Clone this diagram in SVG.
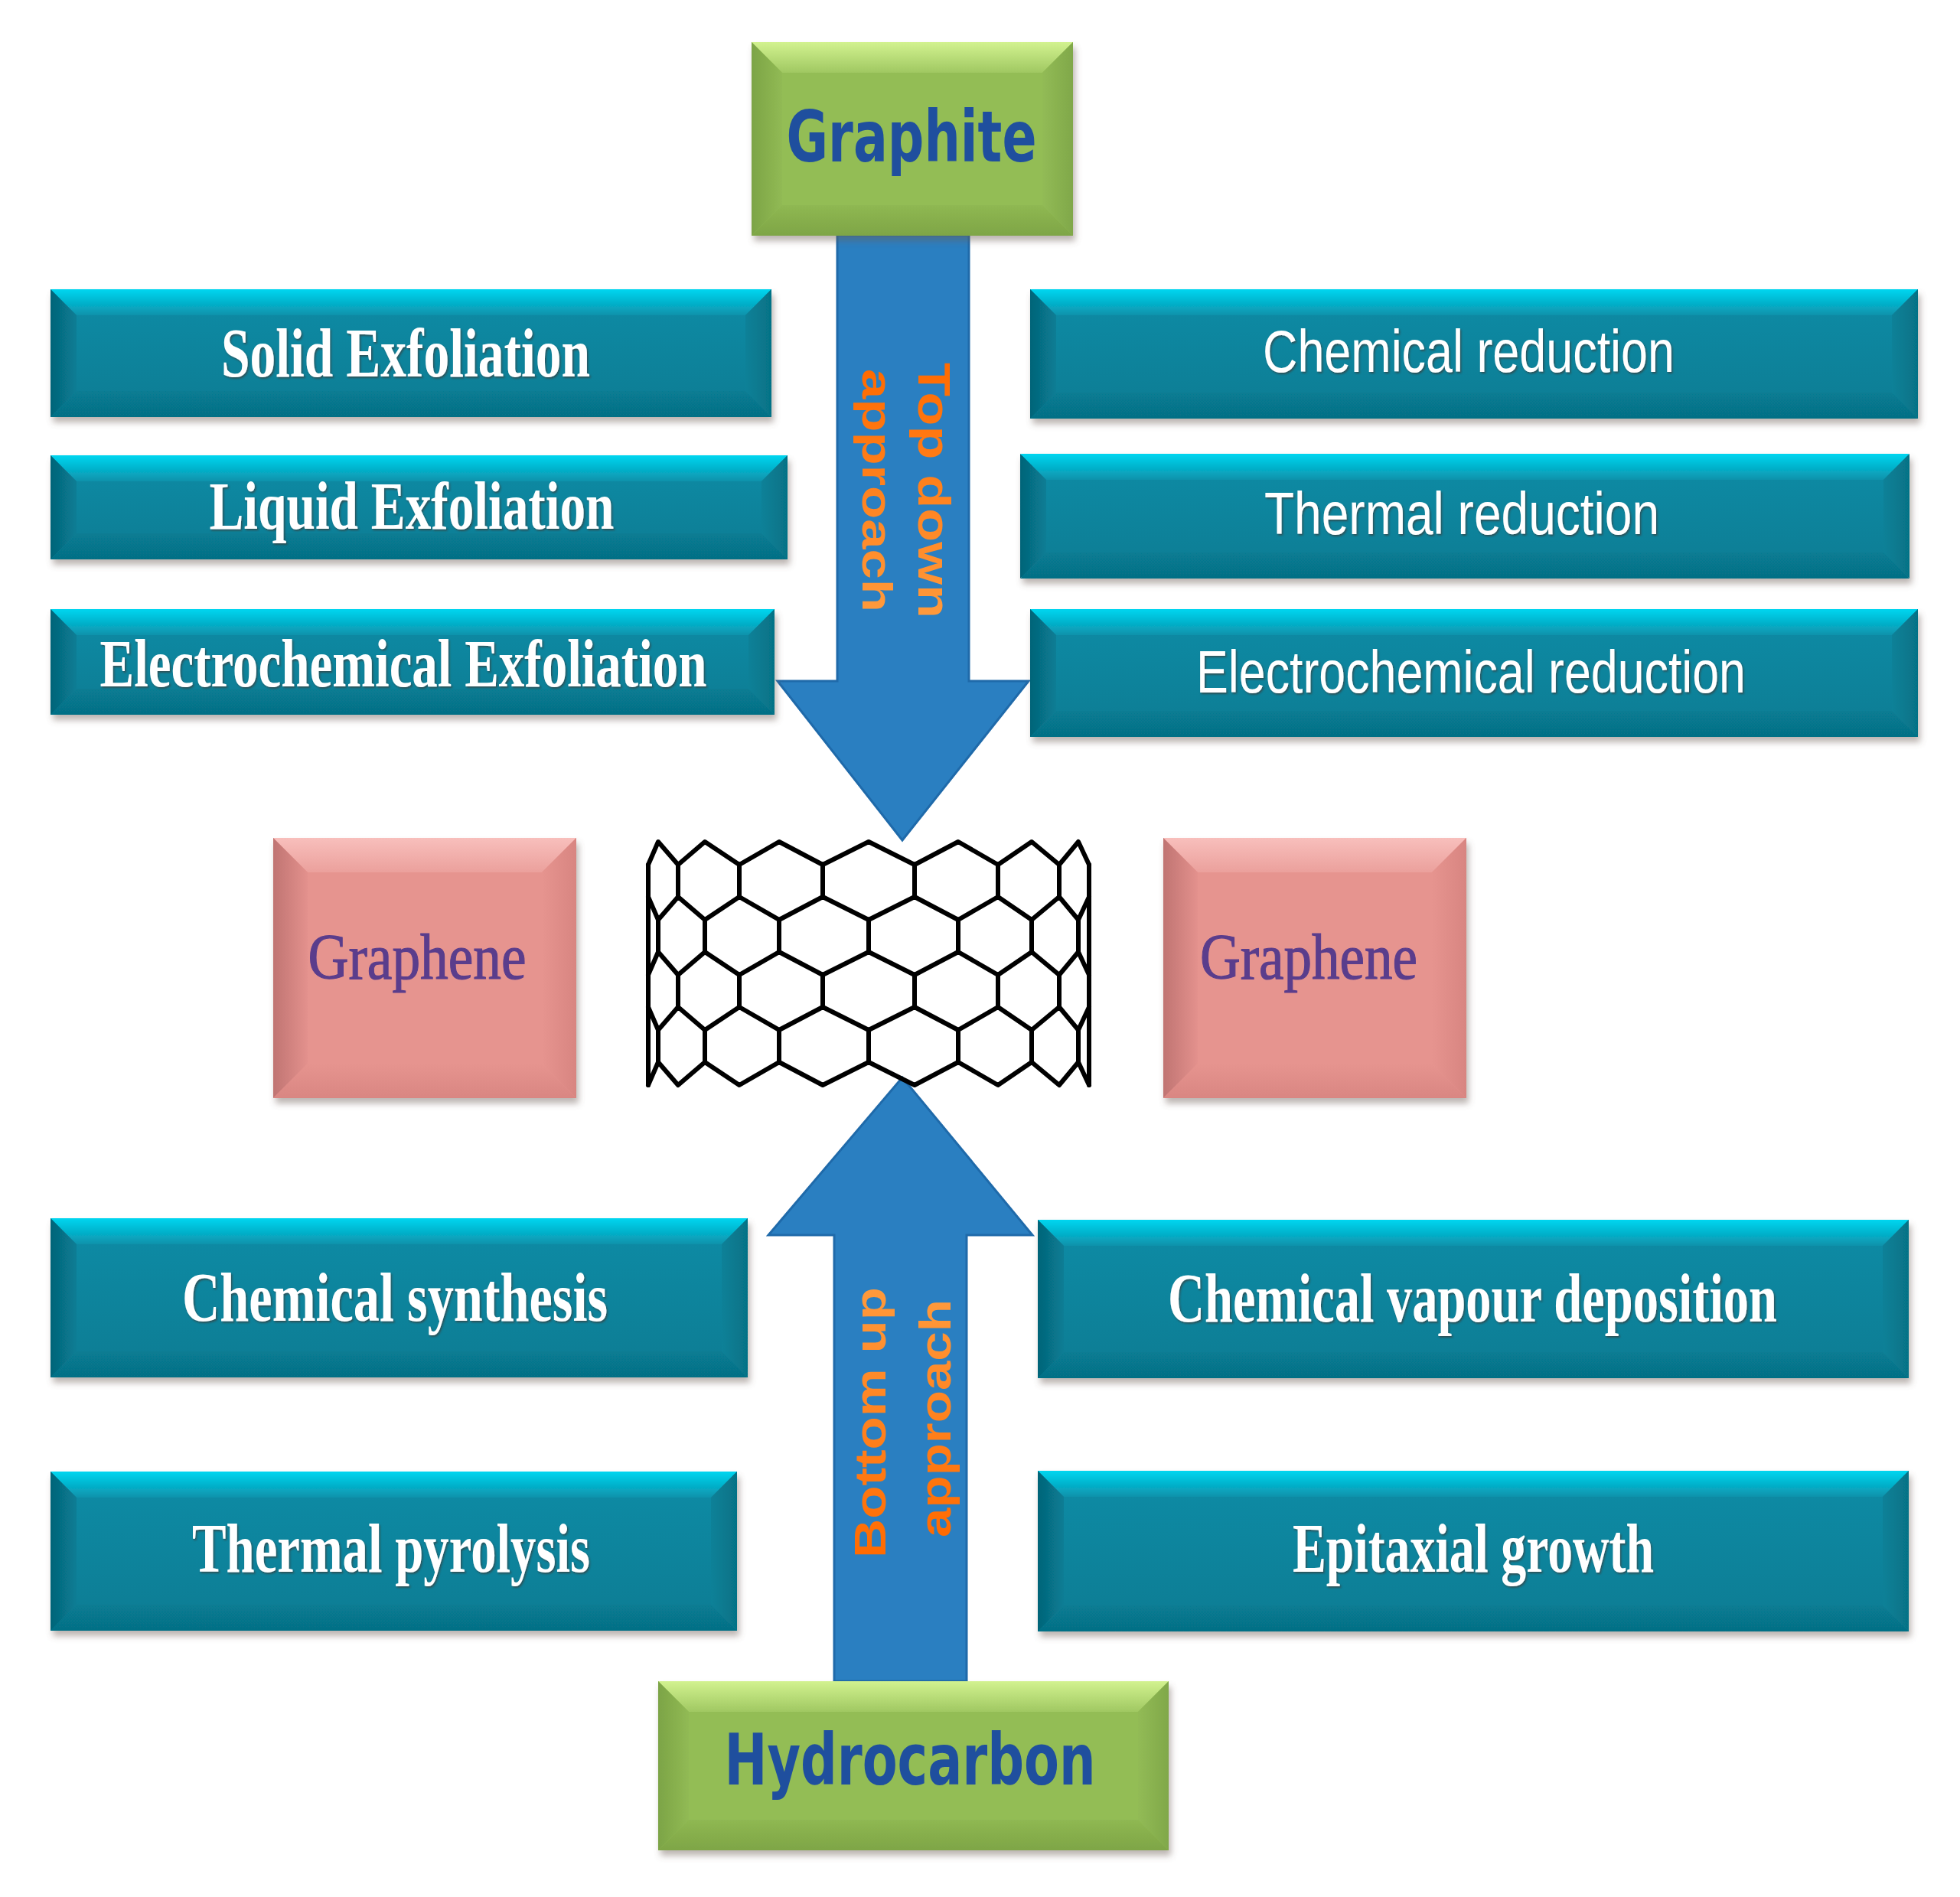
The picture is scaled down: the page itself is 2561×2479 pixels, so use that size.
<svg xmlns="http://www.w3.org/2000/svg" width="2561" height="2479" viewBox="0 0 2561 2479">
<defs>
<style>
.sw{font-family:"Liberation Serif",serif;font-weight:bold;fill:#fff;text-anchor:middle}
.ss{font-family:"Liberation Sans",sans-serif;fill:#fff;text-anchor:middle}
.gb{font-family:"DejaVu Sans",sans-serif;font-weight:bold;fill:#1f4f9e;text-anchor:middle}
.gp{font-family:"Liberation Serif",serif;fill:#5a3d8c;stroke:#5a3d8c;stroke-width:1.2;text-anchor:middle}
.or{font-family:"Liberation Sans",sans-serif;font-weight:bold;fill:url(#orange)}
.tface{fill:url(#tFace)}.ttop{fill:url(#tTop)}.tleft{fill:url(#tLeft)}.tright{fill:url(#tRight)}.tbot{fill:url(#tBot)}
.gface{fill:#93bd55}.gtop{fill:url(#gTop)}.gleft{fill:url(#gLeft)}.gright{fill:url(#gRight)}.gbot{fill:url(#gBot)}
.pface{fill:#e6948f}.ptop{fill:url(#pTop)}.pleft{fill:url(#pLeft)}.pright{fill:url(#pRight)}.pbot{fill:url(#pBot)}
.arrow{fill:#2a7fc1;stroke:#1f6aaa;stroke-width:3}
.lat{fill:none;stroke:#000;stroke-width:6;stroke-linejoin:round;stroke-linecap:round}
</style>
<filter id="sh" x="-5%" y="-10%" width="112%" height="130%"><feDropShadow dx="3" dy="7" stdDeviation="4" flood-color="#6b5a55" flood-opacity="0.45"/></filter>
<filter id="ts" x="-5%" y="-20%" width="110%" height="140%"><feDropShadow dx="1.5" dy="2" stdDeviation="1" flood-color="#4a2a20" flood-opacity="0.55"/></filter>
<linearGradient id="tFace" x1="0" y1="0" x2="0" y2="1"><stop offset="0" stop-color="#0a8ca6"/><stop offset="1" stop-color="#077c93"/></linearGradient>
<linearGradient id="tTop" x1="0" y1="0" x2="0" y2="1"><stop offset="0" stop-color="#00d6f0"/><stop offset="1" stop-color="#0a92ab"/></linearGradient>
<linearGradient id="tLeft" x1="0" y1="0" x2="1" y2="0"><stop offset="0" stop-color="#056478"/><stop offset="1" stop-color="#087d95"/></linearGradient>
<linearGradient id="tRight" x1="0" y1="0" x2="1" y2="0"><stop offset="0" stop-color="#0a8198"/><stop offset="1" stop-color="#067286"/></linearGradient>
<linearGradient id="tBot" x1="0" y1="0" x2="0" y2="1"><stop offset="0" stop-color="#077c93"/><stop offset="1" stop-color="#066f85"/></linearGradient>
<linearGradient id="gTop" x1="0" y1="0" x2="0" y2="1"><stop offset="0" stop-color="#d2f28f"/><stop offset="1" stop-color="#a0c862"/></linearGradient>
<linearGradient id="gLeft" x1="0" y1="0" x2="1" y2="0"><stop offset="0" stop-color="#7ca446"/><stop offset="1" stop-color="#91ba54"/></linearGradient>
<linearGradient id="gRight" x1="0" y1="0" x2="1" y2="0"><stop offset="0" stop-color="#92bb55"/><stop offset="1" stop-color="#80a84a"/></linearGradient>
<linearGradient id="gBot" x1="0" y1="0" x2="0" y2="1"><stop offset="0" stop-color="#8fb852"/><stop offset="1" stop-color="#7ea546"/></linearGradient>
<linearGradient id="pTop" x1="0" y1="0" x2="0" y2="1"><stop offset="0" stop-color="#f8bfbc"/><stop offset="1" stop-color="#eba09c"/></linearGradient>
<linearGradient id="pLeft" x1="0" y1="0" x2="1" y2="0"><stop offset="0" stop-color="#c07472"/><stop offset="1" stop-color="#e3918d"/></linearGradient>
<linearGradient id="pRight" x1="0" y1="0" x2="1" y2="0"><stop offset="0" stop-color="#e6948f"/><stop offset="1" stop-color="#d88581"/></linearGradient>
<linearGradient id="pBot" x1="0" y1="0" x2="0" y2="1"><stop offset="0" stop-color="#e6948f"/><stop offset="1" stop-color="#d98682"/></linearGradient>
<linearGradient id="orange" x1="0" y1="0" x2="1" y2="0"><stop offset="0" stop-color="#ff6a00"/><stop offset="1" stop-color="#ff9a3c"/></linearGradient>
</defs>
<rect width="2561" height="2479" fill="#fff"/>

<g id="connectors">
<path class="arrow" d="M1094,307 L1266,307 L1266,890 L1344,890 L1179,1098 L1016,890 L1094,890 Z"/>
<path class="arrow" d="M1090,2197 L1090,1614 L1004,1614 L1179,1408 L1349,1614 L1263,1614 L1263,2197 Z"/>
<text class="or" font-size="60" transform="translate(1200,474) rotate(90)" textLength="334" lengthAdjust="spacingAndGlyphs">Top down</text>
<text class="or" font-size="56" transform="translate(1127,482) rotate(90)" textLength="318" lengthAdjust="spacingAndGlyphs">approach</text>
<text class="or" font-size="58" transform="translate(1157,2036) rotate(-90)" textLength="354" lengthAdjust="spacingAndGlyphs">Bottom up</text>
<text class="or" font-size="58" transform="translate(1242,2009) rotate(-90)" textLength="311" lengthAdjust="spacingAndGlyphs">approach</text>
</g>

<g id="graphite" filter="url(#sh)">
<rect class="gface" x="982" y="55" width="420" height="253"/>
<polygon class="gtop" points="982,55 1402,55 1362,95 1022,95"/>
<polygon class="gleft" points="982,55 1022,95 1022,268 982,308"/>
<polygon class="gright" points="1402,55 1402,308 1362,268 1362,95"/>
<polygon class="gbot" points="982,308 1022,268 1362,268 1402,308"/>
</g>
<text class="gb" x="1191" y="211" font-size="92" textLength="327" lengthAdjust="spacingAndGlyphs">Graphite</text>

<g id="hydrocarbon">
<g filter="url(#sh)">
<rect class="gface" x="860" y="2197" width="667" height="221"/>
<polygon class="gtop" points="860,2197 1527,2197 1487,2237 900,2237"/>
<polygon class="gleft" points="860,2197 900,2237 900,2378 860,2418"/>
<polygon class="gright" points="1527,2197 1527,2418 1487,2378 1487,2237"/>
<polygon class="gbot" points="860,2418 900,2378 1487,2378 1527,2418"/>
</g>
<text class="gb" x="1189" y="2332" font-size="92" textLength="485" lengthAdjust="spacingAndGlyphs">Hydrocarbon</text>
</g>

<g id="solid-exfoliation">
<g filter="url(#sh)">
<rect class="tface" x="66" y="378" width="942" height="167"/>
<polygon class="ttop" points="66,378 1008,378 974,412 100,412"/>
<polygon class="tleft" points="66,378 100,412 100,511 66,545"/>
<polygon class="tright" points="1008,378 1008,545 974,511 974,412"/>
<polygon class="tbot" points="66,545 100,511 974,511 1008,545"/>
</g>
<text class="sw" filter="url(#ts)" x="530" y="492" font-size="90" textLength="482" lengthAdjust="spacingAndGlyphs">Solid Exfoliation</text>
</g>

<g id="liquid-exfoliation">
<g filter="url(#sh)">
<rect class="tface" x="66" y="595" width="963" height="136"/>
<polygon class="ttop" points="66,595 1029,595 995,629 100,629"/>
<polygon class="tleft" points="66,595 100,629 100,697 66,731"/>
<polygon class="tright" points="1029,595 1029,731 995,697 995,629"/>
<polygon class="tbot" points="66,731 100,697 995,697 1029,731"/>
</g>
<text class="sw" filter="url(#ts)" x="538" y="691" font-size="88" textLength="529" lengthAdjust="spacingAndGlyphs">Liquid Exfoliation</text>
</g>

<g id="electrochemical-exfoliation">
<g filter="url(#sh)">
<rect class="tface" x="66" y="796" width="946" height="138"/>
<polygon class="ttop" points="66,796 1012,796 978,830 100,830"/>
<polygon class="tleft" points="66,796 100,830 100,900 66,934"/>
<polygon class="tright" points="1012,796 1012,934 978,900 978,830"/>
<polygon class="tbot" points="66,934 100,900 978,900 1012,934"/>
</g>
<text class="sw" filter="url(#ts)" x="527" y="897" font-size="88" textLength="793" lengthAdjust="spacingAndGlyphs">Electrochemical Exfoliation</text>
</g>

<g id="chemical-reduction">
<g filter="url(#sh)">
<rect class="tface" x="1346" y="378" width="1160" height="169"/>
<polygon class="ttop" points="1346,378 2506,378 2472,412 1380,412"/>
<polygon class="tleft" points="1346,378 1380,412 1380,513 1346,547"/>
<polygon class="tright" points="2506,378 2506,547 2472,513 2472,412"/>
<polygon class="tbot" points="1346,547 1380,513 2472,513 2506,547"/>
</g>
<text class="ss" filter="url(#ts)" x="1919" y="486" font-size="78" textLength="538" lengthAdjust="spacingAndGlyphs">Chemical reduction</text>
</g>

<g id="thermal-reduction">
<g filter="url(#sh)">
<rect class="tface" x="1333" y="593" width="1162" height="163" rx="6"/>
<polygon class="ttop" points="1333,593 2495,593 2461,627 1367,627"/>
<polygon class="tleft" points="1333,593 1367,627 1367,722 1333,756"/>
<polygon class="tright" points="2495,593 2495,756 2461,722 2461,627"/>
<polygon class="tbot" points="1333,756 1367,722 2461,722 2495,756"/>
</g>
<text class="ss" filter="url(#ts)" x="1910" y="698" font-size="78" textLength="516" lengthAdjust="spacingAndGlyphs">Thermal reduction</text>
</g>

<g id="electrochemical-reduction">
<g filter="url(#sh)">
<rect class="tface" x="1346" y="796" width="1160" height="167"/>
<polygon class="ttop" points="1346,796 2506,796 2472,830 1380,830"/>
<polygon class="tleft" points="1346,796 1380,830 1380,929 1346,963"/>
<polygon class="tright" points="2506,796 2506,963 2472,929 2472,830"/>
<polygon class="tbot" points="1346,963 1380,929 2472,929 2506,963"/>
</g>
<text class="ss" filter="url(#ts)" x="1922" y="905" font-size="78" textLength="718" lengthAdjust="spacingAndGlyphs">Electrochemical reduction</text>
</g>

<g id="graphene-left">
<g filter="url(#sh)">
<rect class="pface" x="357" y="1095" width="396" height="340"/>
<polygon class="ptop" points="357,1095 753,1095 708,1140 402,1140"/>
<polygon class="pleft" points="357,1095 402,1140 402,1390 357,1435"/>
<polygon class="pright" points="753,1095 753,1435 708,1390 708,1140"/>
<polygon class="pbot" points="357,1435 402,1390 708,1390 753,1435"/>
</g>
<text class="gp" x="545" y="1279" font-size="84" textLength="285" lengthAdjust="spacingAndGlyphs">Graphene</text>
</g>

<g id="graphene-right">
<g filter="url(#sh)">
<rect class="pface" x="1520" y="1095" width="396" height="340"/>
<polygon class="ptop" points="1520,1095 1916,1095 1871,1140 1565,1140"/>
<polygon class="pleft" points="1520,1095 1565,1140 1565,1390 1520,1435"/>
<polygon class="pright" points="1916,1095 1916,1435 1871,1390 1871,1140"/>
<polygon class="pbot" points="1520,1435 1565,1390 1871,1390 1916,1435"/>
</g>
<text class="gp" x="1710" y="1279" font-size="84" textLength="284" lengthAdjust="spacingAndGlyphs">Graphene</text>
</g>

<g id="graphene-lattice" class="lat">
<path d="M847,1130 L860,1100 L886,1130 L921,1100 L966,1130 L1018,1100 L1075,1130 L1135,1100 L1195,1130 L1252,1100 L1304,1130 L1348,1100 L1384,1130 L1409,1100 L1423,1130"/>
<path d="M847,1172 L860,1202 L886,1172 L921,1202 L966,1172 L1018,1202 L1075,1172 L1135,1202 L1195,1172 L1252,1202 L1304,1172 L1348,1202 L1384,1172 L1409,1202 L1423,1172"/>
<path d="M847,1274 L860,1244 L886,1274 L921,1244 L966,1274 L1018,1244 L1075,1274 L1135,1244 L1195,1274 L1252,1244 L1304,1274 L1348,1244 L1384,1274 L1409,1244 L1423,1274"/>
<path d="M847,1316 L860,1346 L886,1316 L921,1346 L966,1316 L1018,1346 L1075,1316 L1135,1346 L1195,1316 L1252,1346 L1304,1316 L1348,1346 L1384,1316 L1409,1346 L1423,1316"/>
<path d="M847,1418 L860,1388 L886,1418 L921,1388 L966,1418 L1018,1388 L1075,1418 L1135,1388 L1195,1418 L1252,1388 L1304,1418 L1348,1388 L1384,1418 L1409,1388 L1423,1418"/>
<path d="M847,1130 V1418 M1423,1130 V1418 M886,1130 V1172 M966,1130 V1172 M1075,1130 V1172 M1195,1130 V1172 M1304,1130 V1172 M1384,1130 V1172 M860,1202 V1244 M921,1202 V1244 M1018,1202 V1244 M1135,1202 V1244 M1252,1202 V1244 M1348,1202 V1244 M1409,1202 V1244 M886,1274 V1316 M966,1274 V1316 M1075,1274 V1316 M1195,1274 V1316 M1304,1274 V1316 M1384,1274 V1316 M860,1346 V1388 M921,1346 V1388 M1018,1346 V1388 M1135,1346 V1388 M1252,1346 V1388 M1348,1346 V1388 M1409,1346 V1388"/>
</g>

<g id="chemical-synthesis">
<g filter="url(#sh)">
<rect class="tface" x="66" y="1592" width="911" height="208"/>
<polygon class="ttop" points="66,1592 977,1592 943,1626 100,1626"/>
<polygon class="tleft" points="66,1592 100,1626 100,1766 66,1800"/>
<polygon class="tright" points="977,1592 977,1800 943,1766 943,1626"/>
<polygon class="tbot" points="66,1800 100,1766 943,1766 977,1800"/>
</g>
<text class="sw" filter="url(#ts)" x="516" y="1726" font-size="92" textLength="556" lengthAdjust="spacingAndGlyphs">Chemical synthesis</text>
</g>

<g id="thermal-pyrolysis">
<g filter="url(#sh)">
<rect class="tface" x="66" y="1923" width="897" height="208"/>
<polygon class="ttop" points="66,1923 963,1923 929,1957 100,1957"/>
<polygon class="tleft" points="66,1923 100,1957 100,2097 66,2131"/>
<polygon class="tright" points="963,1923 963,2131 929,2097 929,1957"/>
<polygon class="tbot" points="66,2131 100,2097 929,2097 963,2131"/>
</g>
<text class="sw" filter="url(#ts)" x="511" y="2054" font-size="92" textLength="520" lengthAdjust="spacingAndGlyphs">Thermal pyrolysis</text>
</g>

<g id="chemical-vapour-deposition">
<g filter="url(#sh)">
<rect class="tface" x="1356" y="1594" width="1138" height="207"/>
<polygon class="ttop" points="1356,1594 2494,1594 2460,1628 1390,1628"/>
<polygon class="tleft" points="1356,1594 1390,1628 1390,1767 1356,1801"/>
<polygon class="tright" points="2494,1594 2494,1801 2460,1767 2460,1628"/>
<polygon class="tbot" points="1356,1801 1390,1767 2460,1767 2494,1801"/>
</g>
<text class="sw" filter="url(#ts)" x="1924" y="1727" font-size="92" textLength="796" lengthAdjust="spacingAndGlyphs">Chemical vapour deposition</text>
</g>

<g id="epitaxial-growth">
<g filter="url(#sh)">
<rect class="tface" x="1356" y="1922" width="1138" height="210"/>
<polygon class="ttop" points="1356,1922 2494,1922 2460,1956 1390,1956"/>
<polygon class="tleft" points="1356,1922 1390,1956 1390,2098 1356,2132"/>
<polygon class="tright" points="2494,1922 2494,2132 2460,2098 2460,1956"/>
<polygon class="tbot" points="1356,2132 1390,2098 2460,2098 2494,2132"/>
</g>
<text class="sw" filter="url(#ts)" x="1925" y="2054" font-size="92" textLength="472" lengthAdjust="spacingAndGlyphs">Epitaxial growth</text>
</g>
</svg>
